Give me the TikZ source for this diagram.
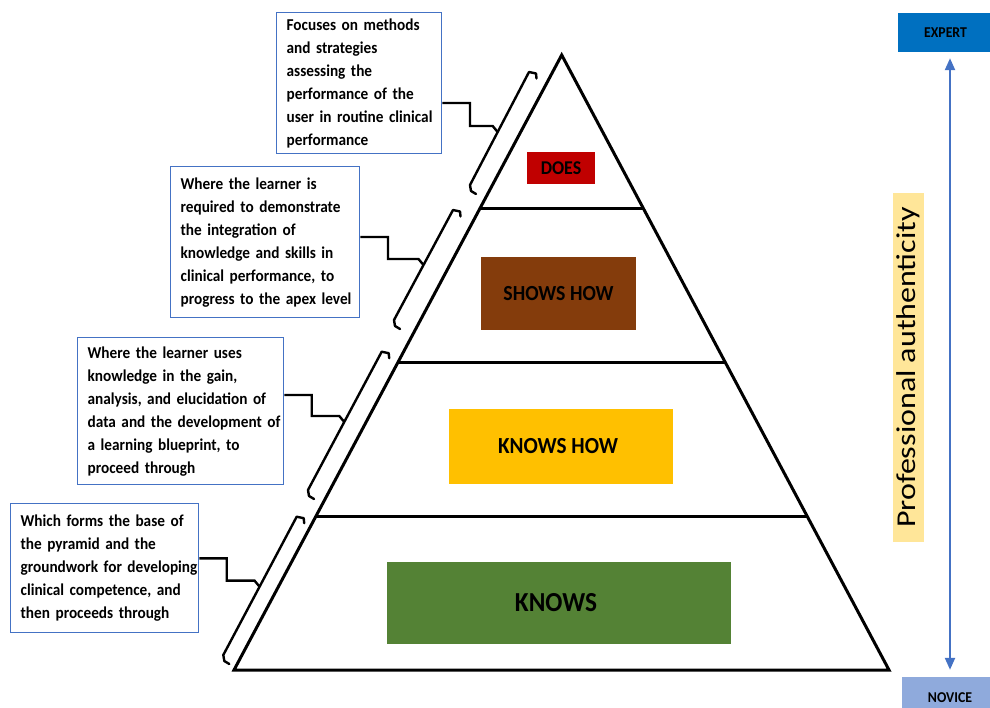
\documentclass[tikz,border=0pt]{standalone}
\usepackage{graphicx}
\usepackage{fontspec}
\setmainfont{Carlito}[FakeStretch=0.92]
\newfontfamily\plainfont{Carlito}
\usetikzlibrary{calc,arrows.meta}
\definecolor{doesred}{HTML}{C00000}
\definecolor{showsbrown}{HTML}{843C0C}
\definecolor{knowshowyellow}{HTML}{FFC000}
\definecolor{knowsgreen}{HTML}{548235}
\definecolor{authbg}{HTML}{FFE699}
\definecolor{boxblue}{HTML}{4472C4}
\definecolor{expertblue}{HTML}{0070C0}
\definecolor{noviceblue}{HTML}{8FAADC}
\begin{document}
\begin{tikzpicture}[x=1pt,y=-1pt,
  desc/.style={draw=boxblue, line width=1.3pt, fill=white, anchor=north west,
    inner xsep=10pt, inner ysep=0pt, align=left,
    font=\fontsize{16.6}{23}\selectfont\bfseries},
  levelbox/.style={inner sep=0pt, text=black},
  pyr/.style={line width=3pt, line join=miter},
  brk/.style={line width=2.4pt, line join=round, line cap=round},
  conn/.style={line width=2.4pt, line join=miter},
  tagbox/.style={inner sep=0pt, font=\fontsize{15}{15}\selectfont\bfseries},
  scalearrow/.style={boxblue, line width=2.2pt, >={Triangle[length=12pt,width=10pt]}, <->},
]
\useasboundingbox (0,0) rectangle (990,708);

% pyramid
\coordinate (apex) at (561.7,55);
\coordinate (bl) at (234,670);
\coordinate (br) at (889,670);
\draw[pyr] (apex) -- (br) -- (bl) -- cycle;
\draw[pyr] ($(apex)!0.25!(bl)$) -- ($(apex)!0.25!(br)$);
\draw[pyr] ($(apex)!0.5!(bl)$) -- ($(apex)!0.5!(br)$);
\draw[pyr] ($(apex)!0.75!(bl)$) -- ($(apex)!0.75!(br)$);

% level labels
\node[levelbox, fill=doesred, minimum width=68pt, minimum height=32pt,
  font=\fontsize{19.5}{20}\selectfont\bfseries] (does) at (561,168) {DOES};
\node[levelbox, fill=showsbrown, minimum width=155pt, minimum height=73pt,
  font=\fontsize{21.5}{22}\selectfont\bfseries] (shows) at (558.5,293.5) {SHOWS HOW};
\node[levelbox, fill=knowshowyellow, minimum width=224pt, minimum height=75pt,
  font=\fontsize{23}{23}\selectfont\bfseries] (knowshow) at (561,446.5) {\hspace*{-6pt}KNOWS HOW};
\node[levelbox, fill=knowsgreen, minimum width=344pt, minimum height=82pt,
  font=\fontsize{27.5}{28}\selectfont\bfseries] (knows) at (559,603) {\hspace*{-6pt}KNOWS};

% description boxes
\node[desc, text width=145pt, minimum height=141pt] (d1) at (276,12)
  {\mbox{Focuses on methods}\\\mbox{and strategies}\\\mbox{assessing the}\\\mbox{performance of the}\\\mbox{user in routine clinical}\\\mbox{performance}};
\node[desc, text width=169pt, minimum height=151pt] (d2) at (170,166)
  {\mbox{Where the learner is}\\\mbox{required to demonstrate}\\\mbox{the integration of}\\\mbox{knowledge and skills in}\\\mbox{clinical performance, to}\\\mbox{progress to the apex level}};
\node[desc, text width=186pt, minimum height=147pt] (d3) at (77,337)
  {\mbox{Where the learner uses}\\\mbox{knowledge in the gain,}\\\mbox{analysis, and elucidation of}\\\mbox{data and the development of}\\\mbox{a learning blueprint, to}\\\mbox{proceed through}};
\node[desc, text width=168pt, minimum height=129pt] (d4) at (10,503)
  {\mbox{Which forms the base of}\\\mbox{the pyramid and the}\\\mbox{groundwork for developing}\\\mbox{clinical competence, and}\\\mbox{then proceeds through}};

% brackets
\coordinate (a1) at (529,72);      \coordinate (b1) at (470,185);
\coordinate (a2) at (453,210);     \coordinate (b2) at (394,320);
\coordinate (a3) at (381.7,351.7); \coordinate (b3) at (308,490);
\coordinate (a4) at (296.7,516.7); \coordinate (b4) at (223.3,655);
\foreach \i in {1,2,3,4}{
  \draw[brk] ($(a\i)+(7.5,6.5)$) -- ($(a\i)+(7,1.5)$) -- (a\i) -- (b\i)
    -- ($(b\i)+(1,6)$) -- ($(b\i)+(6,9)$);
}
\coordinate (m1) at ($(a1)!0.531!(b1)$);
\coordinate (m2) at ($(a2)!0.5!(b2)$);
\coordinate (m3) at ($(a3)!0.508!(b3)$);
\coordinate (m4) at ($(a4)!0.506!(b4)$);
\foreach \i in {1,2,3,4}{ \coordinate (t\i) at ($(m\i)+(-5,-6)$); }

% connectors
\draw[conn] (d1.east |- 0,103) -| (470,0 |- t1) -- (t1) -- (m1);
\draw[conn] (d2.east |- 0,237) -| (388,0 |- t2) -- (t2) -- (m2);
\draw[conn] (d3.east |- 0,395) -| (311.7,0 |- t3) -- (t3) -- (m3);
\draw[conn] (d4.east |- 0,558.3) -| (226.7,0 |- t4) -- (t4) -- (m4);

% right side
\node[fill=authbg, minimum width=349pt, minimum height=31pt, inner sep=0pt, rotate=90]
  (auth) at (908.5,367.5)
  {\scalebox{1}[0.85]{\plainfont\fontsize{32}{32}\selectfont Professional authenticity}};
\node[tagbox, fill=expertblue, minimum width=92pt, minimum height=39pt] (expert) at (944,32.5) {\hspace*{3pt}EXPERT};
\node[tagbox, fill=noviceblue, minimum width=88pt, minimum height=31pt,
  text height=20.5pt, text depth=0pt] (novice) at (946,692.5) {\hspace*{8pt}NOVICE};
\draw[scalearrow]
  ([xshift=6pt,yshift=-6pt]expert.south) -- ([xshift=4pt,yshift=7pt]novice.north);
\end{tikzpicture}
\end{document}
